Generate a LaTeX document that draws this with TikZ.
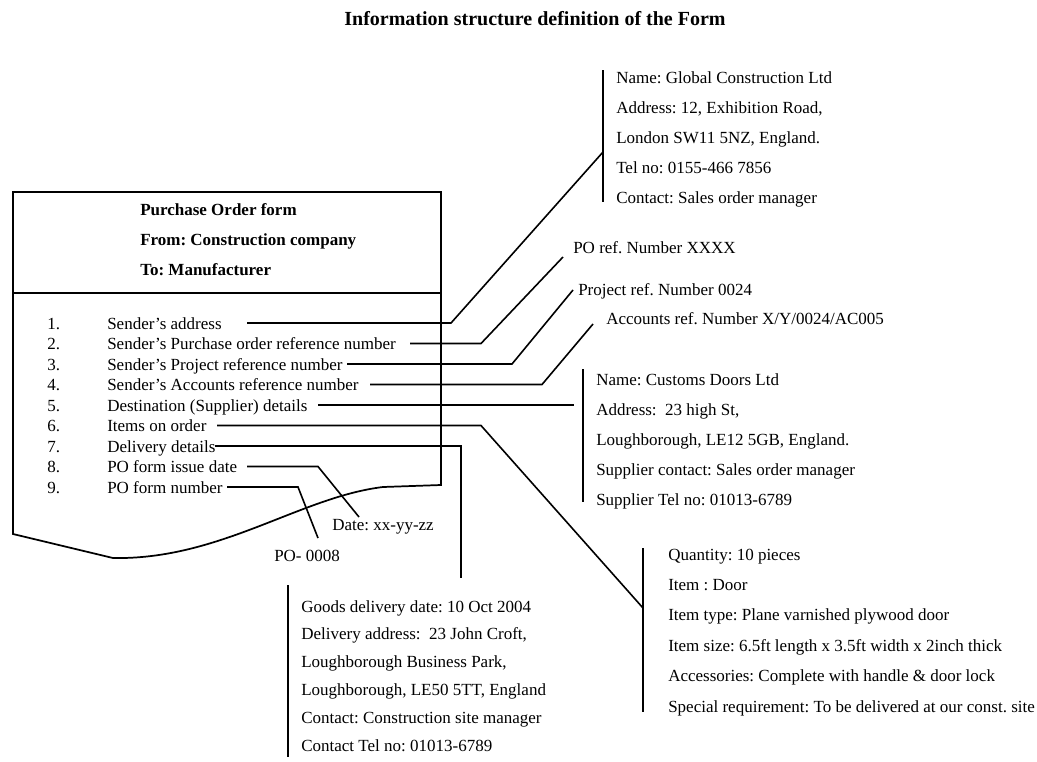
\documentclass[tikz,border=0pt]{standalone}
\usepackage{fontspec}
\setmainfont{Liberation Serif}
\frenchspacing
\begin{document}
\begin{tikzpicture}[x=0.75pt,y=-0.75pt]
\tikzset{
  txt/.style={anchor=base west, inner sep=0pt, font=\fontsize{12.75}{15}\selectfont},
  hdr/.style={anchor=base west, inner sep=0pt, font=\fontsize{12.75}{15}\selectfont\bfseries},
  conn/.style={line width=1.2pt, line join=miter, line cap=butt},
  bar/.style={line width=1.3pt},
  frame/.style={line width=1.3pt, line join=miter},
}
% canvas
\fill[white] (0,0) rectangle (1037,761);
\useasboundingbox (0,0) rectangle (1037,761);

% title
\node[anchor=base, inner sep=0pt, font=\fontsize{15}{18}\selectfont\bfseries] (title) at (535,25)
  {Information structure definition of the Form};

% the form sheet with its torn lower edge
\draw[frame] (441,485) -- (441,192) -- (13,192) -- (13,534) -- (113,558)
  .. controls (220,560) and (300,497) .. (383,487) -- cycle;
\draw[frame] (13,293) -- (441,293);

% form header
\node[hdr] (h1) at (140,215) {Purchase Order form};
\node[hdr] (h2) at (140,245) {From: Construction company};
\node[hdr] (h3) at (140,275) {To: Manufacturer};

% numbered fields
\foreach \k/\t [count=\n] in {
  1/{Sender’s address},
  2/{Sender’s Purchase order reference number},
  3/{Sender’s Project reference number},
  4/{Sender’s Accounts reference number},
  5/{Destination (Supplier) details},
  6/{Items on order},
  7/{Delivery details},
  8/{PO form issue date},
  9/{PO form number}}{
  \node[txt] (n\k) at (47,{329+20.5*(\n-1)}) {\k.};
  \node[txt] (i\k) at (107,{329+20.5*(\n-1)}) {\t};
}

% leader start points beside the fields
\coordinate (s1) at (247,323);
\coordinate (s2) at (410,343.5);
\coordinate (s3) at (347,364);
\coordinate (s4) at (370,384.5);
\coordinate (s5) at (318,405);
\coordinate (s6) at (217,425.5);
\coordinate (s7) at (215,446);
\coordinate (s8) at (247,466.5);
\coordinate (s9) at (227,487);

% sender details block
\draw[bar] (603,70) -- (603,202);
\foreach \t [count=\n] in {
  Name: Global Construction Ltd,
  {Address: 12, Exhibition Road,},
  {London SW11 5NZ, England.},
  Tel no: 0155-466 7856,
  Contact: Sales order manager}{
  \node[txt] (g\n) at (616,{83+30*(\n-1)}) {\t};
}
\coordinate (gin) at (603,152);

% reference numbers
\node[txt] (po) at (573,253) {PO ref. Number XXXX};
\node[txt] (pr) at (578,295) {Project ref. Number 0024};
\node[txt] (ac) at (606,324) {Accounts ref. Number X/Y/0024/AC005};
\coordinate (poin) at (563,257);
\coordinate (prin) at (573,290);
\coordinate (acin) at (593,324);

% supplier block
\draw[bar] (583,369) -- (583,502);
\foreach \t [count=\n] in {
  Name: Customs Doors Ltd,
  {Address: \ 23 high St,},
  {Loughborough, LE12 5GB, England.},
  Supplier contact: Sales order manager,
  Supplier Tel no: 01013-6789}{
  \node[txt] (c\n) at (596,{385+30.2*(\n-1)}) {\t};
}
\coordinate (cin) at (574,405);

% order items block
\draw[bar] (643,548) -- (643,712);
\foreach \t [count=\n] in {
  Quantity: 10 pieces,
  Item : Door,
  Item type: Plane varnished plywood door,
  Item size: 6.5ft length x 3.5ft width x 2inch thick,
  Accessories: Complete with handle \& door lock,
  Special requirement: To be delivered at our const. site}{
  \node[txt] (q\n) at (668,{560+30.4*(\n-1)}) {\t};
}
\coordinate (qin) at (643,608);

% delivery block
\draw[bar] (288,585) -- (288,757);
\foreach \t [count=\n] in {
  Goods delivery date: 10 Oct 2004,
  {Delivery address: \ 23 John Croft,},
  {Loughborough Business Park,},
  {Loughborough, LE50 5TT, England},
  Contact: Construction site manager,
  Contact Tel no: 01013-6789}{
  \node[txt] (d\n) at (301,{612+27.8*(\n-1)}) {\t};
}
\coordinate (din) at (461,578);

% date and number
\node[txt] (dt) at (332,530) {Date: xx-yy-zz};
\node[txt] (pn) at (274,561) {PO- 0008};
\coordinate (dtin) at (359,517);
\coordinate (pnin) at (318,538);

% leaders
\draw[conn] (s1) -- (451,323) -- (gin);
\draw[conn] (s2) -- (481,343.5) -- (poin);
\draw[conn] (s3) -- (512,364) -- (prin);
\draw[conn] (s4) -- (542,384.5) -- (acin);
\draw[conn] (s5) -- (cin);
\draw[conn] (s6) -- (481,425.5) -- (qin);
\draw[conn] (s7) -- (461,446) -- (din);
\draw[conn] (s8) -- (318,466.5) -- (dtin);
\draw[conn] (s9) -- (298,487) -- (pnin);
\end{tikzpicture}
\end{document}
